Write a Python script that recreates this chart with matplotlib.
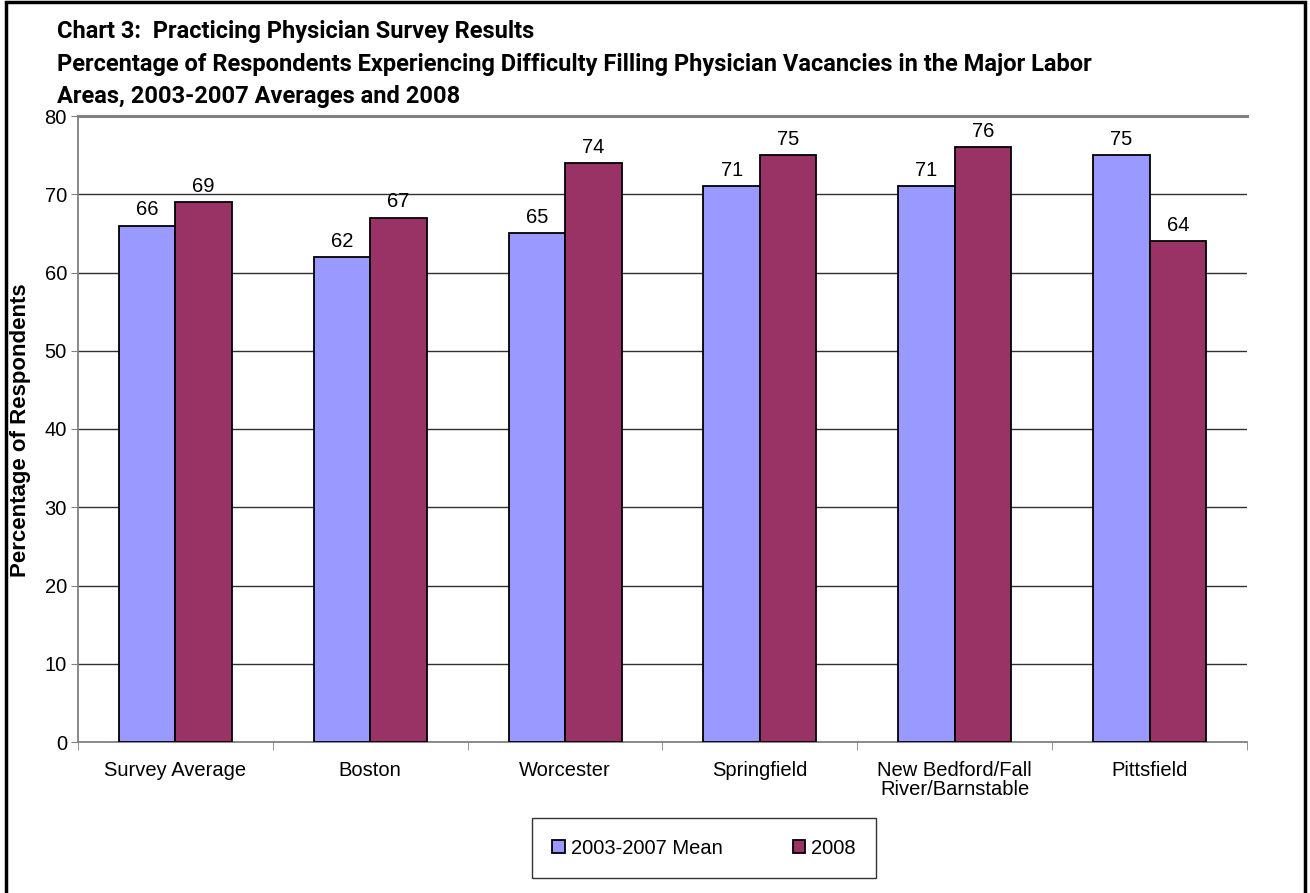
import numpy as np
import matplotlib
matplotlib.use("Agg")
import matplotlib.pyplot as plt
from matplotlib.patches import Rectangle

categories = ["Survey Average", "Boston", "Worcester", "Springfield",
              "New Bedford/Fall\nRiver/Barnstable", "Pittsfield"]
mean_0307 = [66, 62, 65, 71, 71, 75]
y2008 = [69, 67, 74, 75, 76, 64]
series_names = ["2003-2007 Mean", "2008"]
yticks = [0, 10, 20, 30, 40, 50, 60, 70, 80]

title_lines = ["Chart 3:  Practicing Physician Survey Results",
               "Percentage of Respondents Experiencing Difficulty Filling Physician Vacancies in the Major Labor",
               "Areas, 2003-2007 Averages and 2008"]

plt.rcParams['font.family'] = ['Liberation Sans', 'DejaVu Sans']

W, H = 1310, 893
fig = plt.figure(figsize=(W / 100, H / 100), dpi=100)
ax = fig.add_axes([78 / W, 1 - 742 / H, (1247 - 78) / W, (742 - 116) / H])

x = np.arange(len(categories))
bw = 0.29
b1 = ax.bar(x - bw / 2, mean_0307, bw, color="#9999FF", edgecolor="black", linewidth=1.3,
            label=series_names[0], zorder=3)
b2 = ax.bar(x + bw / 2, y2008, bw, color="#993366", edgecolor="black", linewidth=1.3,
            label=series_names[1], zorder=3)
for bars in (b1, b2):
    for r in bars:
        ax.text(r.get_x() + r.get_width() / 2, r.get_height() + 0.8, "%d" % r.get_height(),
                ha="center", va="bottom", fontsize=14.5)

ax.set_xlim(-0.5, len(categories) - 0.5)
ax.set_ylim(0, 80)
ax.set_yticks(yticks)
ax.tick_params(axis="y", labelsize=14.5, length=5, color="#808080", pad=3)
ax.set_xticks(x)
ax.set_xticklabels(categories, fontsize=14.5, linespacing=0.95)
ax.tick_params(axis="x", length=0, pad=14)
ax.set_xticks(np.arange(-0.5, len(categories) + 0.5, 1), minor=True)
ax.tick_params(axis="x", which="minor", length=6, color="#808080")

for v in yticks[1:-1]:
    ax.axhline(v, color="#303030", linewidth=1.0, zorder=1)

ax.spines["right"].set_visible(False)
ax.spines["top"].set_color("#808080")
ax.spines["top"].set_linewidth(2.2)
for s in ("left", "bottom"):
    ax.spines[s].set_color("#808080")
    ax.spines[s].set_linewidth(1.3)

fig.text(21 / W, 1 - 430 / H, "Percentage of Respondents", rotation=90, ha="center", va="center",
         fontsize=16, fontweight="bold")

# title, sized so the long line spans about the same width as in the source
tfam = ['Roboto', 'Open Sans', 'DejaVu Sans']
baselines = [38, 71, 103]
renderer = fig.canvas.get_renderer()
probe = fig.text(0, 0, title_lines[1], fontsize=16, fontweight="bold", family=tfam)
wpx = probe.get_window_extent(renderer).width
probe.remove()
tsize = min(16 * 1036 / wpx, 17.5)
for line, yb in zip(title_lines, baselines):
    fig.text(57 / W, 1 - yb / H, line, ha="left", va="baseline", fontsize=tsize,
             fontweight="bold", family=tfam)

leg = fig.legend(loc="center", bbox_to_anchor=(704 / W, 1 - 848 / H), ncol=2, fontsize=14.5,
                 frameon=True, fancybox=False, edgecolor="black", handlelength=0.6,
                 handleheight=0.6, handletextpad=0.3, columnspacing=3.5,
                 borderpad=1.0, borderaxespad=0)
leg.get_frame().set_linewidth(1.0)

fig.patches.append(Rectangle((6 / W, -0.01), (1305 - 6) / W, 1.01 - 2 / H, transform=fig.transFigure,
                             fill=False, edgecolor="black", linewidth=2.5))

fig.savefig("out.png", dpi=100)
